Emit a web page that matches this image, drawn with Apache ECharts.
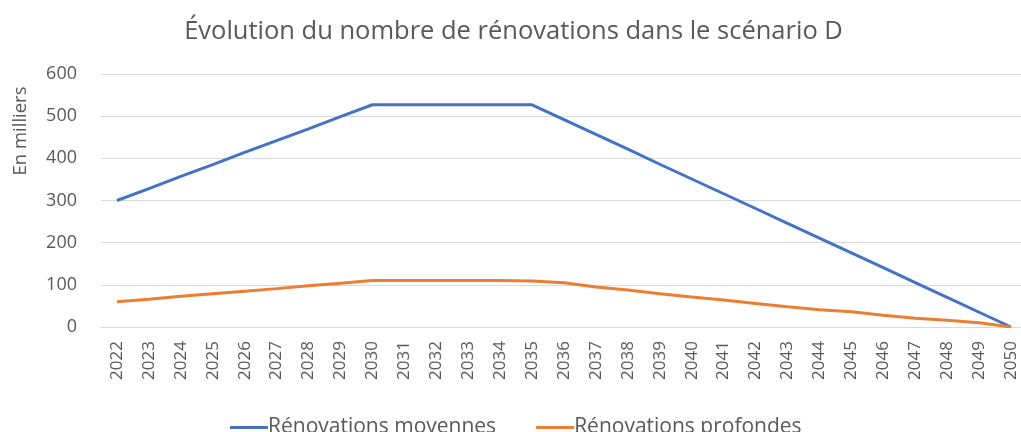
<!DOCTYPE html>
<html>
<head>
<meta charset="utf-8">
<script src="https://cdn.jsdelivr.net/npm/echarts@6/dist/echarts.min.js"></script>
<style>
	html, body { margin: 0; padding: 0; background: #fff; overflow: hidden; }
	/* plot runs slightly past the right edge, like the cropped original */
	#chart { width: 1027px; height: 432px; }
</style>
</head>
<body>
<div id="chart"></div>
<script>
var years = ['2022', '2023', '2024', '2025', '2026', '2027', '2028', '2029', '2030', '2031',
	'2032', '2033', '2034', '2035', '2036', '2037', '2038', '2039', '2040', '2041',
	'2042', '2043', '2044', '2045', '2046', '2047', '2048', '2049', '2050'];

var moyennes = [300, 328, 357, 385, 414, 442, 470, 499, 527, 527,
	527, 527, 527, 527, 492, 457, 422, 386, 351, 316,
	281, 246, 211, 176, 141, 105, 70, 35, 0];

var profondes = [60, 66, 73, 79, 85, 91, 98, 104, 110, 110,
	110, 110, 110, 109, 105, 95, 88, 79, 71, 64,
	56, 48, 41, 36, 28, 21, 16, 10, 0];

var seriesNames = ['Rénovations moyennes', 'Rénovations profondes'];
var yTicks = [0, 600, 100];

var textColor = '#595959';
var fontFamily = 'Open Sans, Noto Sans, sans-serif';

var chart = echarts.init(document.getElementById('chart'));

var option = {
	animation: false,
	textStyle: { fontFamily: fontFamily },
	title: {
		text: 'Évolution du nombre de rénovations dans le scénario D',
		left: 'center',
		top: 14,
		textStyle: { color: textColor, fontSize: 25.5, fontWeight: 'normal', fontFamily: fontFamily }
	},
	graphic: [{
		type: 'text',
		x: 21,
		y: 131,
		rotation: Math.PI / 2,
		style: {
			text: 'En milliers',
			fill: textColor,
			font: '18.5px ' + fontFamily,
			textAlign: 'center',
			textVerticalAlign: 'middle'
		}
	}],
	legend: {
		top: 412,
		left: 225,
		itemGap: 40,
		itemWidth: 38,
		itemHeight: 3,
		icon: 'rect',
		textStyle: { color: textColor, fontSize: 21, fontFamily: fontFamily, padding: [0, 0, 0, -5] },
		data: seriesNames
	},
	grid: {
		left: 101,
		right: 0,
		top: 74,
		bottom: 105,
		containLabel: false
	},
	xAxis: {
		type: 'category',
		data: years,
		boundaryGap: true,
		axisLine: { lineStyle: { color: '#d9d9d9' } },
		axisTick: { show: false },
		axisLabel: {
			rotate: 90,
			interval: 0,
			margin: 14,
			color: textColor,
			fontSize: 17,
			fontFamily: fontFamily
		}
	},
	yAxis: {
		type: 'value',
		min: yTicks[0],
		max: yTicks[1],
		interval: yTicks[2],
		axisLine: { show: false },
		axisTick: { show: false },
		splitLine: { lineStyle: { color: '#d9d9d9', width: 1 } },
		axisLabel: {
			margin: 24,
			color: textColor,
			fontSize: 18,
			fontFamily: fontFamily
		}
	},
	series: [{
		name: seriesNames[0],
		type: 'line',
		data: moyennes,
		symbol: 'none',
		color: '#4472C4',
		lineStyle: { width: 3, color: '#4472C4' }
	}, {
		name: seriesNames[1],
		type: 'line',
		data: profondes,
		symbol: 'none',
		color: '#ED7D31',
		lineStyle: { width: 3, color: '#ED7D31' }
	}]
};

chart.setOption(option);
</script>
</body>
</html>
